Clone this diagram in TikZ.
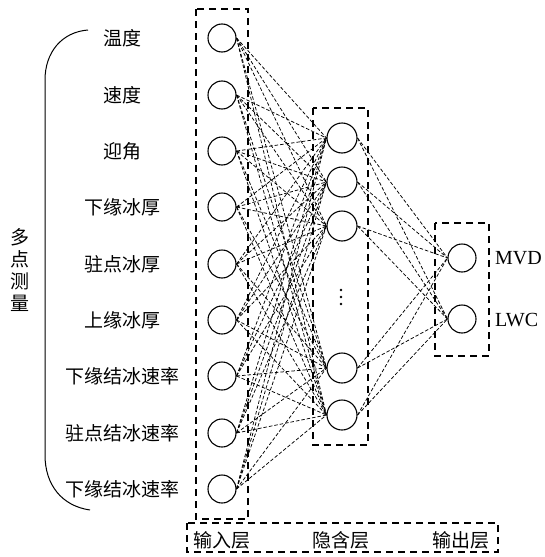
\documentclass[tikz,border=0pt]{standalone}
\usepackage{fontspec}
\setmainfont{Liberation Serif}
\newfontfamily\cjk{Noto Sans CJK SC}
\begin{document}
\begin{tikzpicture}[x=1pt,y=-1pt,
  neuron/.style={circle,draw,line width=1.1pt,minimum size=28pt,inner sep=0pt},
  hneuron/.style={neuron,minimum size=30pt},
  conn/.style={dash pattern=on 3.5pt off 2pt,line width=0.75pt},
  layerbox/.style={draw,line width=1.1pt,dash pattern=on 7pt off 5pt},
  lab/.style={font=\cjk\fontsize{19}{22}\selectfont,inner sep=0pt},
  olab/.style={font=\fontsize{20}{22}\selectfont,inner sep=0pt}]
\useasboundingbox (0,0) rectangle (545,557);
% boxes
\draw[layerbox] (196,9) rectangle (248,519);
\draw[layerbox] (313,108) rectangle (368,445);
\draw[layerbox] (435,223) rectangle (489,356);
\draw[layerbox] (187,523) rectangle (498,552);
% input neurons and labels
\foreach \y [count=\i] in {38,95,151,207,264,320,376,433,489}
  \node[neuron] (i\i) at (222,\y) {};
\foreach \t [count=\i] in {温度,速度,迎角,下缘冰厚,驻点冰厚,上缘冰厚,下缘结冰速率,驻点结冰速率,下缘结冰速率}
  \node[lab] (l\i) at (122,0 |- i\i) {\t};
% hidden neurons
\foreach \y [count=\j] in {138,182,226,368,415}
  \node[hneuron] (h\j) at (342,\y) {};
\foreach \y [count=\k] in {290,297,304}
  \fill (341,\y) circle (1.3pt) coordinate (d\k);
% output neurons
\node[neuron] (o1) at (462,258) {};
\node[neuron] (o2) at (462,319) {};
\node[olab,anchor=west] (mvd) at (495,258) {MVD};
\node[olab,anchor=west] (lwc) at (495,320) {LWC};
% connections
\foreach \i in {1,...,9}
  \foreach \j in {1,...,5}
    \draw[conn] (i\i.east) -- (h\j.west);
\foreach \j in {1,...,5}
  \foreach \k in {1,2}
    \draw[conn] (h\j.east) -- (o\k.west);
% layer labels
\node[lab] (t1) at (222,540) {输入层};
\node[lab] (t2) at (341,540) {隐含层};
\node[lab] (t3) at (461,540) {输出层};
% brace
\draw[line width=1pt] (88,30) .. controls (62,32) and (45,52) .. (45,80) -- (45,455) .. controls (45,485) and (62,506) .. (90,510);
\node[lab,align=center,font=\cjk\fontsize{19}{22}\selectfont] (side) at (20,270) {多\\点\\测\\量};
\end{tikzpicture}
\end{document}
